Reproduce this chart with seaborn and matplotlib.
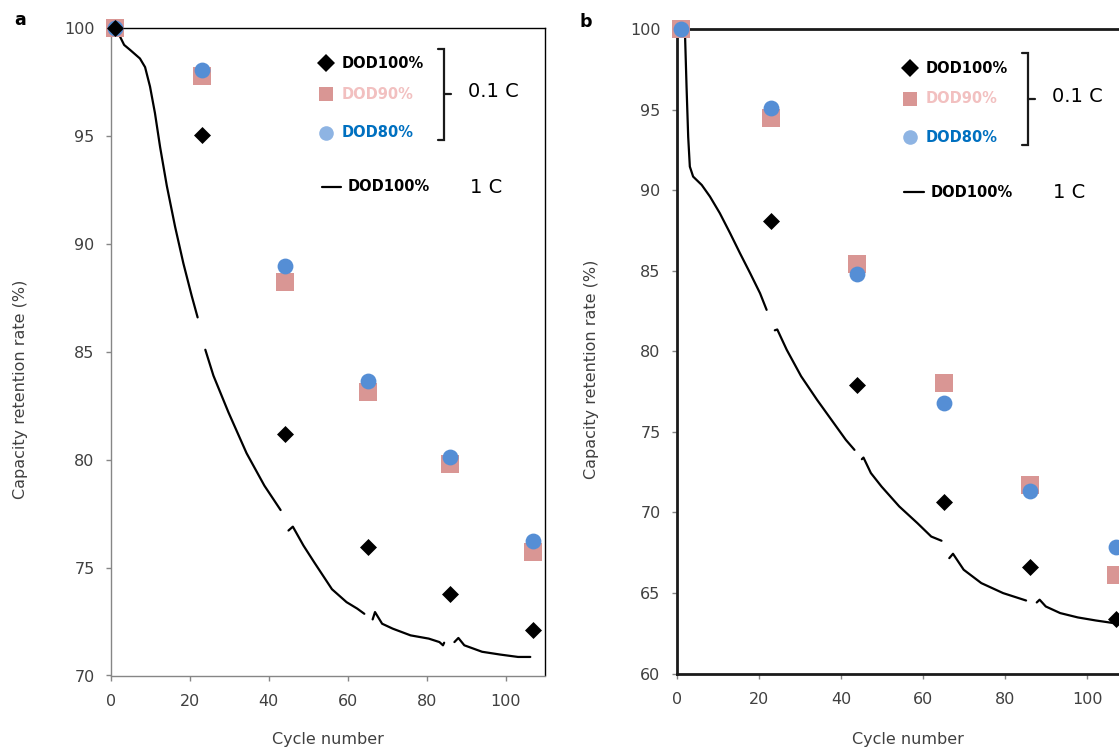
import numpy as np
import pandas as pd
import matplotlib
matplotlib.use("Agg")
import matplotlib.pyplot as plt
import seaborn as sns

# ---------------- data ----------------
cycles = [1, 23, 44, 65, 86, 107]

a_dod100 = [100, 95.06, 81.2, 75.95, 73.8, 72.12]
a_dod90 = [100, 97.8, 88.25, 83.15, 79.8, 75.72]
a_dod80 = [100, 98.07, 89.0, 83.65, 80.15, 76.22]

b_dod100 = [100, 88.1, 77.9, 70.65, 66.58, 63.38]
b_dod90 = [100, 94.5, 85.4, 78.0, 71.7, 66.1]
b_dod80 = [100, 95.08, 84.8, 76.8, 71.35, 67.88]

# 1 C DOD100% curves (traced), split into segments
a_line_x = [
    [1, 2.4, 3.4, 4.9, 7.4, 8.7, 9.95, 11.2, 12.5, 14.2, 16.3, 18.4, 20.5, 22.0],
    [23.95, 26.0, 29.8, 34.4, 38.9, 43.0],
    [45.0, 46.1, 48.8, 51.5, 56.0, 59.7, 62.4, 64.2],
    [66.3, 66.9, 68.7, 71.4, 75.9, 80.5, 83.2, 84.1, 84.4],
    [87.0, 88.0, 89.5, 94.0, 98.6, 103.1, 106.2],
]
a_line_y = [
    [100, 99.6, 99.23, 99.0, 98.6, 98.2, 97.3, 96.07, 94.5, 92.7, 90.8, 89.1, 87.6, 86.6],
    [85.1, 83.9, 82.2, 80.3, 78.8, 77.67],
    [76.72, 76.9, 76.02, 75.25, 74.0, 73.4, 73.1, 72.86],
    [72.6, 72.94, 72.4, 72.17, 71.86, 71.71, 71.55, 71.4, 71.52],
    [71.55, 71.74, 71.4, 71.1, 70.97, 70.86, 70.86],
]
b_line_x = [
    [1.5, 2.0, 2.4, 2.8, 3.2, 4.0, 6.1, 8.1, 10.5, 13.0, 15.4, 17.9, 20.3, 21.9],
    [23.9, 24.5, 26.8, 30.3, 34.2, 37.7, 41.2, 43.3],
    [45.1, 45.5, 47.3, 49.9, 54.2, 58.6, 62.0, 64.5],
    [66.4, 67.3, 69.9, 74.2, 79.5, 85.1],
    [87.7, 88.4, 89.9, 93.4, 97.7, 102.1, 106.4, 108.0],
]
b_line_y = [
    [100, 99.9, 96.4, 93.3, 91.46, 90.84, 90.32, 89.6, 88.57, 87.33, 86.09, 84.84, 83.6, 82.57],
    [81.3, 81.35, 80.09, 78.45, 76.98, 75.74, 74.5, 73.88],
    [73.3, 73.4, 72.44, 71.6, 70.37, 69.34, 68.5, 68.24],
    [67.16, 67.43, 66.44, 65.61, 64.99, 64.53],
    [64.41, 64.58, 64.16, 63.75, 63.48, 63.29, 63.13, 63.1],
]

x_ticks = [0, 20, 40, 60, 80, 100]
a_y_ticks = [70, 75, 80, 85, 90, 95, 100]
b_y_ticks = [60, 65, 70, 75, 80, 85, 90, 95, 100]

# ---------------- style ----------------
sns.set_style("white")
plt.rcParams['font.family'] = ['DejaVu Sans']

BLACK = "#000000"
PINK = "#d99694"
BLUE = "#558ed5"
LEG_BLUE = "#8eb4e3"
TXT_PINK = "#f2c0c0"
TXT_BLUE = "#0070c0"
GRAY_TXT = "#404040"

W, H = 1119, 751
fig = plt.figure(figsize=(W / 100, H / 100), dpi=100)
axA = fig.add_axes([110.7 / W, (H - 675.5) / H, 434.6 / W, 647.2 / H])
axB = fig.add_axes([676.7 / W, (H - 673.5) / H, 451.6 / W, 644.5 / H])


def line_df(xs, ys):
    rows = []
    for i, (sx, sy) in enumerate(zip(xs, ys)):
        for x, y in zip(sx, sy):
            rows.append({"cycle": x, "cap": y, "seg": i})
    return pd.DataFrame(rows)


def draw_panel(ax, lx, ly, d100, d90, d80, order):
    sns.lineplot(data=line_df(lx, ly), x="cycle", y="cap", units="seg",
                 estimator=None, sort=False, color=BLACK, lw=1.6,
                 ax=ax, legend=False, zorder=2)
    specs = {
        "d100": dict(y=d100, marker="D", s=75, color=BLACK),
        "d90": dict(y=d90, marker="s", s=160, color=PINK),
        "d80": dict(y=d80, marker="o", s=130, color=BLUE),
    }
    for z, key in enumerate(order):
        sp = specs[key]
        sns.scatterplot(x=cycles, y=sp["y"], marker=sp["marker"], s=sp["s"],
                        color=sp["color"], linewidth=0, ax=ax, clip_on=False,
                        zorder=3 + z, legend=False)
    ax.set_xlim(0, 110)
    ax.set_xticks(x_ticks)
    ax.set_xlabel("Cycle number", fontsize=11.5, color=GRAY_TXT)
    ax.set_ylabel("Capacity retention rate (%)", fontsize=11.5, color=GRAY_TXT)


draw_panel(axA, a_line_x, a_line_y, a_dod100, a_dod90, a_dod80, ["d90", "d80", "d100"])
draw_panel(axB, b_line_x, b_line_y, b_dod100, b_dod90, b_dod80, ["d100", "d90", "d80"])

axA.set_ylim(70, 100)
axA.set_yticks(a_y_ticks)
axB.set_ylim(60, 100)
axB.set_yticks(b_y_ticks)

# spines
for side in ["left", "bottom"]:
    axA.spines[side].set_color("#868686")
    axA.spines[side].set_linewidth(1.0)
for side in ["top", "right"]:
    axA.spines[side].set_color("#000000")
    axA.spines[side].set_linewidth(1.0)
for side in ["left", "bottom", "top"]:
    axB.spines[side].set_color("#1a1a1a")
    axB.spines[side].set_linewidth(2.0)
axB.spines["right"].set_visible(False)

for ax in (axA, axB):
    ax.tick_params(axis="both", which="major", bottom=True, left=True,
                   direction="out", length=3.6, width=1.0, color="#868686",
                   labelsize=11.5, labelcolor=GRAY_TXT)
    ax.tick_params(axis="x", pad=9.5)
    ax.tick_params(axis="y", pad=8)

axA.xaxis.set_label_coords(0.5, -0.087)
axA.yaxis.set_label_coords(-0.19, 0.4427)
axB.xaxis.set_label_coords(0.512, -0.091)
axB.yaxis.set_label_coords(-0.172, 0.4725)


# ---------------- custom legends ----------------
def legend(ax, mx, fy, tx, br, c01, lline, ltext, c1):
    t = ax.transAxes
    ax.plot([mx], [fy[0]], marker="D", ms=9, color=BLACK, mew=0,
            transform=t, clip_on=False, zorder=6)
    ax.plot([mx], [fy[1]], marker="s", ms=10, color=PINK, mew=0,
            transform=t, clip_on=False, zorder=6)
    ax.plot([mx], [fy[2]], marker="o", ms=10.5, color=LEG_BLUE, mew=0,
            transform=t, clip_on=False, zorder=6)
    kw = dict(transform=t, fontsize=10.5, fontweight="bold", va="center", ha="left")
    ax.text(tx, fy[0], "DOD100%", color=BLACK, **kw)
    ax.text(tx, fy[1], "DOD90%", color=TXT_PINK, **kw)
    ax.text(tx, fy[2], "DOD80%", color=TXT_BLUE, **kw)
    bx, btop, bbot, bhook, bmid, btick = br
    ax.plot([bhook, bx, bx, bhook], [btop, btop, bbot, bbot], color="#1a1a1a",
            lw=1.6, transform=t, clip_on=False, solid_joinstyle="miter")
    ax.plot([bx, btick], [bmid, bmid], color="#1a1a1a", lw=1.6,
            transform=t, clip_on=False)
    ax.text(c01[0], c01[1], "0.1 C", transform=t, fontsize=14,
            color=BLACK, va="center", ha="left")
    ax.plot([lline[0], lline[1]], [lline[2], lline[2]], color=BLACK, lw=1.6,
            transform=t, clip_on=False)
    ax.text(ltext, lline[2], "DOD100%", color=BLACK, **kw)
    ax.text(c1[0], c1[1], "1 C", transform=t, fontsize=14,
            color=BLACK, va="center", ha="left")


legend(axA, 0.4947, [0.946, 0.898, 0.8387], 0.532,
       (0.768, 0.968, 0.8274, 0.753, 0.8985, 0.783),
       (0.822, 0.903), (0.4855, 0.5305, 0.7553), 0.546, (0.826, 0.754))
legend(axB, 0.5166, [0.939, 0.8914, 0.832], 0.552,
       (0.779, 0.963, 0.820, 0.7646, 0.8914, 0.793),
       (0.831, 0.896), (0.5024, 0.5467, 0.747), 0.563, (0.833, 0.747))

fig.text(20 / W, 1 - 20 / H, "a", fontsize=12.5, fontweight="bold",
         ha="center", va="center", color=BLACK)
fig.text(585.5 / W, 1 - 22 / H, "b", fontsize=12.5, fontweight="bold",
         ha="center", va="center", color=BLACK)

fig.savefig("out.png", dpi=100)
